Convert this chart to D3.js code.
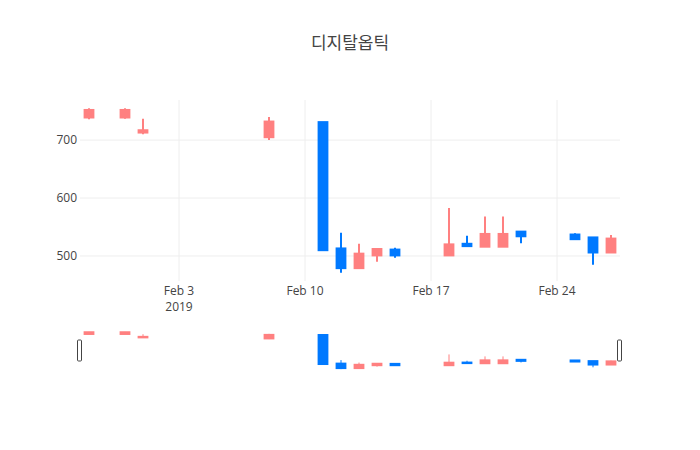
<!DOCTYPE html>
<html>
<head>
<meta charset="utf-8">
<script src="https://cdn.jsdelivr.net/npm/d3@7"></script>
<style>
  body { margin: 0; background: #fff; }
  text { font-family: "Open Sans", "Noto Sans CJK KR", sans-serif; }
</style>
</head>
<body>
<svg id="chart" width="700" height="450"></svg>
<script>
// daily candles
const dates = ["2019-01-29", "2019-01-31", "2019-02-01", "2019-02-08",
    "2019-02-11", "2019-02-12", "2019-02-13", "2019-02-14", "2019-02-15",
    "2019-02-18", "2019-02-19", "2019-02-20", "2019-02-21", "2019-02-22",
    "2019-02-25", "2019-02-26", "2019-02-27"];
const open  = [739, 739, 713, 705, 731, 513, 479, 501, 511, 501, 521, 516, 516, 542, 537, 532, 506];
const high  = [755, 755, 737, 740, 731, 540, 521, 512, 514, 583, 535, 568, 568, 542, 539, 532, 536];
const low   = [736, 737, 710, 700, 510, 471, 479, 490, 497, 501, 516, 516, 516, 522, 528, 485, 506];
const close = [752, 752, 717, 732, 510, 479, 504, 512, 501, 520, 517, 538, 538, 534, 529, 506, 530];
const yTicks = [500, 600, 700];
const title = "디지탈옵틱";

const upColor = "#ff8080";
const downColor = "#0079ff";

const candles = dates.map((d, i) => ({
    date: new Date(d + "T00:00:00Z"),
    open: open[i], high: high[i], low: low[i], close: close[i]
}));

const svg = d3.select("#chart");
const W = 700, left = 80, right = 620;
const mainTop = 100, mainBottom = 281;
const sliderTop = 330, sliderBottom = 371;

const halfDay = 12 * 3600 * 1000;
const x = d3.scaleUtc().
    domain([+candles[0].date - halfDay, +candles[candles.length - 1].date + halfDay]).
    range([left, right]);

const lo = d3.min(low), hi = d3.max(high);
const pad = (hi - lo) * 0.05;
const y = d3.scaleLinear().domain([lo - pad, hi + pad]).range([mainBottom, mainTop]);
const ys = d3.scaleLinear().domain([lo - pad, hi + pad]).range([sliderBottom, sliderTop]);

const dayPx = x(new Date("2019-02-02T00:00:00Z")) - x(new Date("2019-02-01T00:00:00Z"));
const boxW = dayPx * 0.6;

// title
svg.append("text").
    attr("x", W / 2).
    attr("y", 49).
    attr("text-anchor", "middle").
    style("font-size", "17px").
    style("fill", "#444").
    text(title);

// grid
const xTicks = x.ticks(d3.utcSunday);
svg.append("g").
    selectAll("line").
    data(yTicks).
    join("line").
    attr("x1", left).attr("x2", right).
    attr("y1", d => y(d)).attr("y2", d => y(d)).
    attr("stroke", "#eee").attr("stroke-width", 1);

svg.append("g").
    selectAll("line").
    data(xTicks).
    join("line").
    attr("x1", d => x(d)).attr("x2", d => x(d)).
    attr("y1", mainTop).attr("y2", mainBottom).
    attr("stroke", "#eee").attr("stroke-width", 1);

// axes labels
svg.append("g").
    selectAll("text").
    data(yTicks).
    join("text").
    attr("x", left - 3).
    attr("y", d => y(d)).
    attr("dy", "0.35em").
    attr("text-anchor", "end").
    style("font-size", "12px").
    style("fill", "#444").
    text(d => d);

const fmt = d3.utcFormat("%b %-d");
const xLabels = svg.append("g").
    selectAll("text").
    data(xTicks).
    join("text").
    attr("x", d => x(d)).
    attr("y", 295).
    attr("text-anchor", "middle").
    style("font-size", "12px").
    style("fill", "#444");
xLabels.append("tspan").text(d => fmt(d));
xLabels.filter((d, i) => i === 0).
    append("tspan").
    attr("x", d => x(d)).
    attr("dy", 15.6).
    text(d => d3.utcFormat("%Y")(d));

function drawCandles(g, yScale, wick) {
    const c = g.selectAll("g").
        data(candles).
        join("g").
        attr("fill", d => d.close >= d.open ? upColor : downColor).
        attr("stroke", d => d.close >= d.open ? upColor : downColor);
    c.append("line").
        attr("x1", d => x(d.date)).attr("x2", d => x(d.date)).
        attr("y1", d => yScale(d.high)).attr("y2", d => yScale(d.low)).
        attr("stroke-width", wick);
    c.append("rect").
        attr("x", d => x(d.date) - boxW / 2 + 1).
        attr("width", boxW - 2).
        attr("y", d => yScale(Math.max(d.open, d.close))).
        attr("height", d => Math.max(0.5, Math.abs(yScale(d.open) - yScale(d.close)))).
        attr("stroke-width", 2);
}

drawCandles(svg.append("g"), y, 2);

// range slider
const slider = svg.append("g");
drawCandles(slider.append("g"), ys, 1);

const sliderH = sliderBottom - sliderTop;
slider.selectAll("rect.grab").
    data([left, right]).
    join("rect").
    attr("class", "grab").
    attr("x", d => d - 2.5).
    attr("y", sliderTop + Math.round(sliderH / 4)).
    attr("width", 4).
    attr("height", Math.round(sliderH / 2)).
    attr("rx", 1).
    attr("fill", "#fff").
    attr("stroke", "#444").
    attr("stroke-width", 1);
</script>
</body>
</html>
